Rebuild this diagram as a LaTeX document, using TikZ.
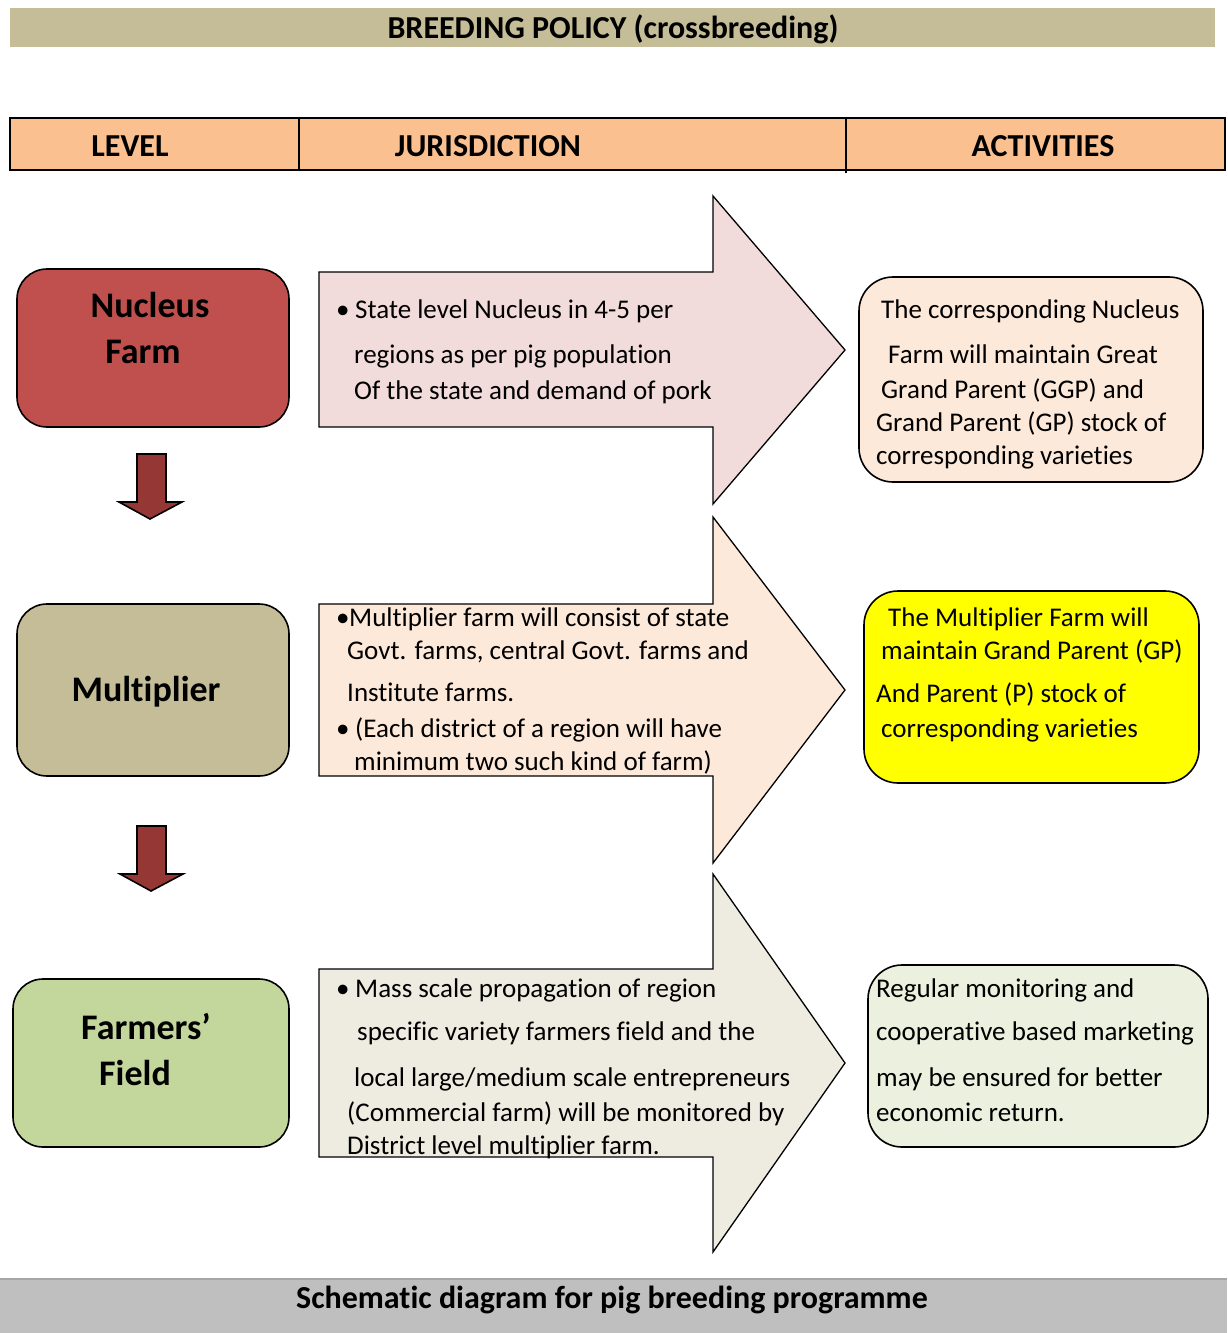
\documentclass[tikz,border=0pt]{standalone}
\usepackage{fontspec}
\setmainfont[Ligatures=NoCommon]{Carlito}
\definecolor{titlebg}{HTML}{C4BD97}
\definecolor{headbg}{HTML}{FAC090}
\definecolor{nucleus}{HTML}{C0504D}
\definecolor{downarr}{HTML}{953735}
\definecolor{multi}{HTML}{C4BD97}
\definecolor{farmer}{HTML}{C3D69B}
\definecolor{arrA}{HTML}{F2DCDB}
\definecolor{arrB}{HTML}{FDE9D9}
\definecolor{arrC}{HTML}{EEECE1}
\definecolor{actA}{HTML}{FDE9D9}
\definecolor{actB}{HTML}{FFFF00}
\definecolor{actC}{HTML}{EBF1DE}
\definecolor{footbg}{HTML}{BFBFBF}
\definecolor{footline}{HTML}{A6A6A6}
\begin{document}
\begin{tikzpicture}[x=1pt,y=-1pt,
  txt/.style={anchor=west, inner sep=0pt, text height=0.64em, text depth=0pt, yshift=-5pt, font=\fontsize{27}{27}\selectfont},
  ttl/.style={anchor=center, inner sep=0pt, text height=0.64em, text depth=0pt, yshift=-7pt, font=\fontsize{36}{36}\selectfont\bfseries},
  hdr/.style={anchor=center, inner sep=0pt, text height=0.64em, text depth=0pt, yshift=-6pt, font=\fontsize{32}{32}\selectfont\bfseries},
  lvlbox/.style={draw=black, line width=1.6pt, rounded corners=30pt, inner sep=0pt},
  actbox/.style={draw=black, line width=1.6pt, rounded corners=34pt, inner sep=0pt},
  bigarrow/.style={draw=black, line width=1.3pt, line join=miter},
  dnarrow/.style={draw=black, line width=1.6pt, fill=downarr, line join=miter}]
\useasboundingbox (0,0) rectangle (1227,1333);

% title band
\node[fill=titlebg, minimum width=1205pt, minimum height=39pt, inner sep=0pt] (titleband) at (612.5,27.5) {};
\node[hdr] (title) at (613,29) {BREEDING POLICY (crossbreeding)};

% header row
\draw[fill=headbg, line width=2pt] (10,118) rectangle (1225,170);
\draw[line width=1.5pt] (299,118) -- (299,170);
\draw[line width=1.5pt] (846,118) -- (846,173);
\node[hdr] (hlevel) at (130,147) {LEVEL};
\node[hdr] (hjur) at (488,147) {JURISDICTION};
\node[hdr] (hact) at (1043,147) {ACTIVITIES};

% level boxes
\node[lvlbox, fill=nucleus, minimum width=272pt, minimum height=158pt] (nucleus) at (153,348) {};
\node[ttl] (nucT1) at (150,307) {Nucleus};
\node[ttl] (nucT2) at (143,353) {Farm};
\node[lvlbox, fill=multi, minimum width=272pt, minimum height=172pt] (multiplier) at (153,690) {};
\node[ttl] (mulT) at (146,691) {Multiplier};
\node[lvlbox, fill=farmer, minimum width=276pt, minimum height=168pt] (farmers) at (151,1063) {};
\node[ttl] (farT1) at (146,1029) {Farmers’};
\node[ttl] (farT2) at (135,1075) {Field};

% down arrows
\draw[dnarrow] (137,454) -- (166,454) -- (166,502) -- (182,502) -- (150,519) -- (119,502) -- (137,502) -- cycle;
\draw[dnarrow] (137,826) -- (166,826) -- (166,874) -- (183,874) -- (151,891) -- (120,874) -- (137,874) -- cycle;

% big arrows
\draw[bigarrow, fill=arrA] (319,272) -- (713,272) -- (713,196) -- (845,350) -- (713,504) -- (713,427) -- (319,427) -- cycle;
\draw[bigarrow, fill=arrB] (319,604) -- (713,604) -- (713,517) -- (845,690) -- (713,863) -- (713,776) -- (319,776) -- cycle;
\draw[bigarrow, fill=arrC] (319,969) -- (713,969) -- (713,874) -- (845,1063) -- (713,1252) -- (713,1157) -- (319,1157) -- cycle;

% jurisdiction texts
\node[txt] (ja0) at (336,310) {•};
\node[txt] (ja1) at (355,310) {State level Nucleus in 4-5 per};
\node[txt] (ja2) at (354,355) {regions as per pig population};
\node[txt] (ja3) at (354,391) {Of the state and demand of pork};

\node[txt] (jb0) at (336,618) {•};
\node[txt] (jb1) at (349,618) {Multiplier farm will consist of state};
\node[txt] (jb2) at (347,651) {Govt. farms, central Govt. farms and};
\node[txt] (jb3) at (347,693) {Institute farms.};
\node[txt] (jb4) at (336,729) {•};
\node[txt] (jb5) at (355,729) {(Each district of a region will have};
\node[txt] (jb6) at (354,762) {minimum two such kind of farm)};

\node[txt] (jc0) at (336,989) {•};
\node[txt] (jc1) at (355,989) {Mass scale propagation of region};
\node[txt] (jc2) at (357,1032) {specific variety farmers field and the};
\node[txt] (jc3) at (354,1078) {local large/medium scale entrepreneurs};
\node[txt] (jc4) at (347,1113) {(Commercial farm) will be monitored by};
\node[txt] (jc5) at (347,1146) {District level multiplier farm.};

% activity boxes
\node[actbox, fill=actA, minimum width=344pt, minimum height=205pt] (actA) at (1031,379.5) {};
\node[txt] (aa1) at (881,310) {The corresponding Nucleus};
\node[txt] (aa2) at (888,355) {Farm will maintain Great};
\node[txt] (aa3) at (881,390) {Grand Parent (GGP) and};
\node[txt] (aa4) at (876,423) {Grand Parent (GP) stock of};
\node[txt] (aa5) at (876,456) {corresponding varieties};

\node[actbox, fill=actB, minimum width=335pt, minimum height=192pt] (actB) at (1031.5,687) {};
\node[txt] (ab1) at (888,618) {The Multiplier Farm will};
\node[txt] (ab2) at (881,651) {maintain Grand Parent (GP)};
\node[txt] (ab3) at (876,694) {And Parent (P) stock of};
\node[txt] (ab4) at (881,729) {corresponding varieties};

\node[actbox, fill=actC, minimum width=340pt, minimum height=182pt] (actC) at (1038,1056) {};
\node[txt] (ac1) at (876,989) {Regular monitoring and};
\node[txt] (ac2) at (876,1032) {cooperative based marketing};
\node[txt] (ac3) at (876,1078) {may be ensured for better};
\node[txt] (ac4) at (876,1113) {economic return.};

% footer band
\fill[footbg] (0,1278) rectangle (1227,1333);
\draw[footline, line width=2pt] (0,1279) -- (1227,1279);
\node[hdr] (footer) at (612,1299) {Schematic diagram for pig breeding programme};
\end{tikzpicture}
\end{document}
